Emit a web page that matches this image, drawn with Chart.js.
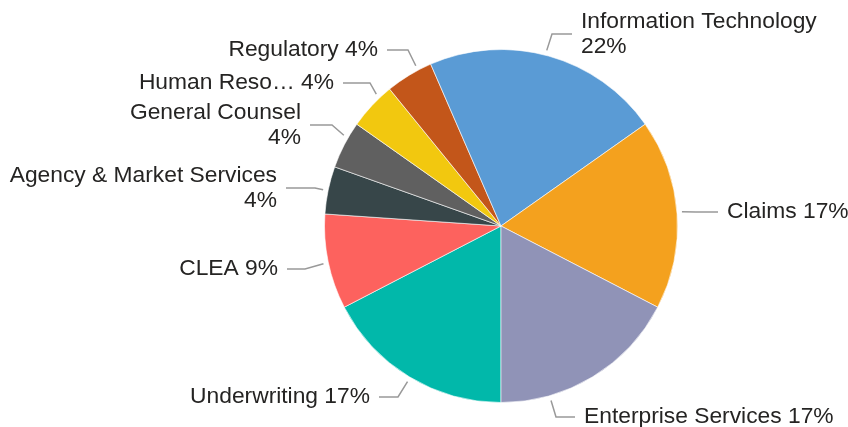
<!DOCTYPE html>
<html>
<head>
<meta charset="utf-8">
<script src="https://cdn.jsdelivr.net/npm/chart.js@4/dist/chart.umd.min.js"></script>
<style>
  html, body { margin: 0; padding: 0; background: #fff; }
  #wrap { width: 848px; height: 427px; }
</style>
</head>
<body>
<div id="wrap"><canvas id="pie"></canvas></div>
<script>
// 부서별 인원 (pie starts at the bottom, clockwise)
const categories = ['Underwriting', 'CLEA', 'Agency & Market Services', 'General Counsel',
    'Human Resources', 'Regulatory', 'Information Technology', 'Claims', 'Enterprise Services'];
const counts = [4, 2, 1, 1, 1, 1, 5, 4, 4];
const sliceColors = ['#01B8AA', '#FD625E', '#374649', '#606060',
    '#F2C80F', '#C3561A', '#5A9BD5', '#F4A11E', '#9093B7'];

// leader line / label layout, offsets from pie centre (a = anchor angle, deg clockwise from top)
const labelLayout = [
    {a: 211,   ex: -103, ey: 171,  lx: -122},
    {a: 258,   ex: -196, ey: 43,   lx: -214},
    {a: 281.5, ex: -186, ey: -38,  lx: -215, wrap: true},
    {a: 300,   ex: -169, ey: -101, lx: -191, wrap: true},
    {a: 316.6, ex: -131, ey: -143, lx: -158, short: 'Human Reso…'},
    {a: 332,   ex: -93,  ey: -176, lx: -114},
    {a: 14.6,  ex: 51,   ey: -192, lx: 71, wrap: true},
    {a: 85.5,  ex: 195,  ey: -14,  lx: 217},
    {a: 164,   ex: 55,   ey: 191,  lx: 74}
];

const pieLabels = {
    id: 'pieLabels',
    afterDatasetsDraw(chart) {
        const ctx = chart.ctx;
        const arcs = chart.getDatasetMeta(0).data;
        const total = counts.reduce((s, v) => s + v, 0);
        ctx.save();
        ctx.font = '22.8px "Liberation Sans", Arial, sans-serif';
        ctx.textBaseline = 'middle';
        arcs.forEach((arc, i) => {
            const L = labelLayout[i];
            const cx = arc.x, cy = arc.y, r = arc.outerRadius + 5;
            const rad = (L.a - 90) * Math.PI / 180;
            const ax = cx + Math.cos(rad) * r, ay = cy + Math.sin(rad) * r;
            const ex = cx + L.ex, ey = cy + L.ey, lx = cx + L.lx;
            ctx.strokeStyle = '#999999';
            ctx.lineWidth = 1.5;
            ctx.beginPath();
            ctx.moveTo(ax, ay);
            ctx.lineTo(ex, ey);
            ctx.lineTo(lx, ey);
            ctx.stroke();

            const right = L.lx > 0;
            const pct = Math.round(counts[i] / total * 100) + '%';
            const name = L.short || categories[i];
            const lines = L.wrap ? [name, pct] : [name + ' ' + pct];
            ctx.fillStyle = '#252423';
            ctx.textAlign = right ? 'left' : 'right';
            const tx = right ? lx + 9 : lx - 9;
            const step = 25;
            const y0 = ey - (lines.length - 1) * step / 2;
            lines.forEach((t, k) => ctx.fillText(t, tx, y0 + k * step));
        });
        ctx.restore();
    }
};

new Chart(document.getElementById('pie').getContext('2d'), {
    type: 'pie',
    data: {
        labels: categories,
        datasets: [{
            data: counts,
            backgroundColor: sliceColors,
            borderColor: 'rgba(255,255,255,0.6)',
            borderWidth: 1
        }]
    },
    options: {
        responsive: true,
        maintainAspectRatio: false,
        animation: false,
        rotation: 180,
        layout: { padding: { left: 324, right: 170, top: 49, bottom: 24 } },
        plugins: {
            legend: { display: false },
            tooltip: { enabled: false }
        }
    },
    plugins: [pieLabels]
});
</script>
</body>
</html>
